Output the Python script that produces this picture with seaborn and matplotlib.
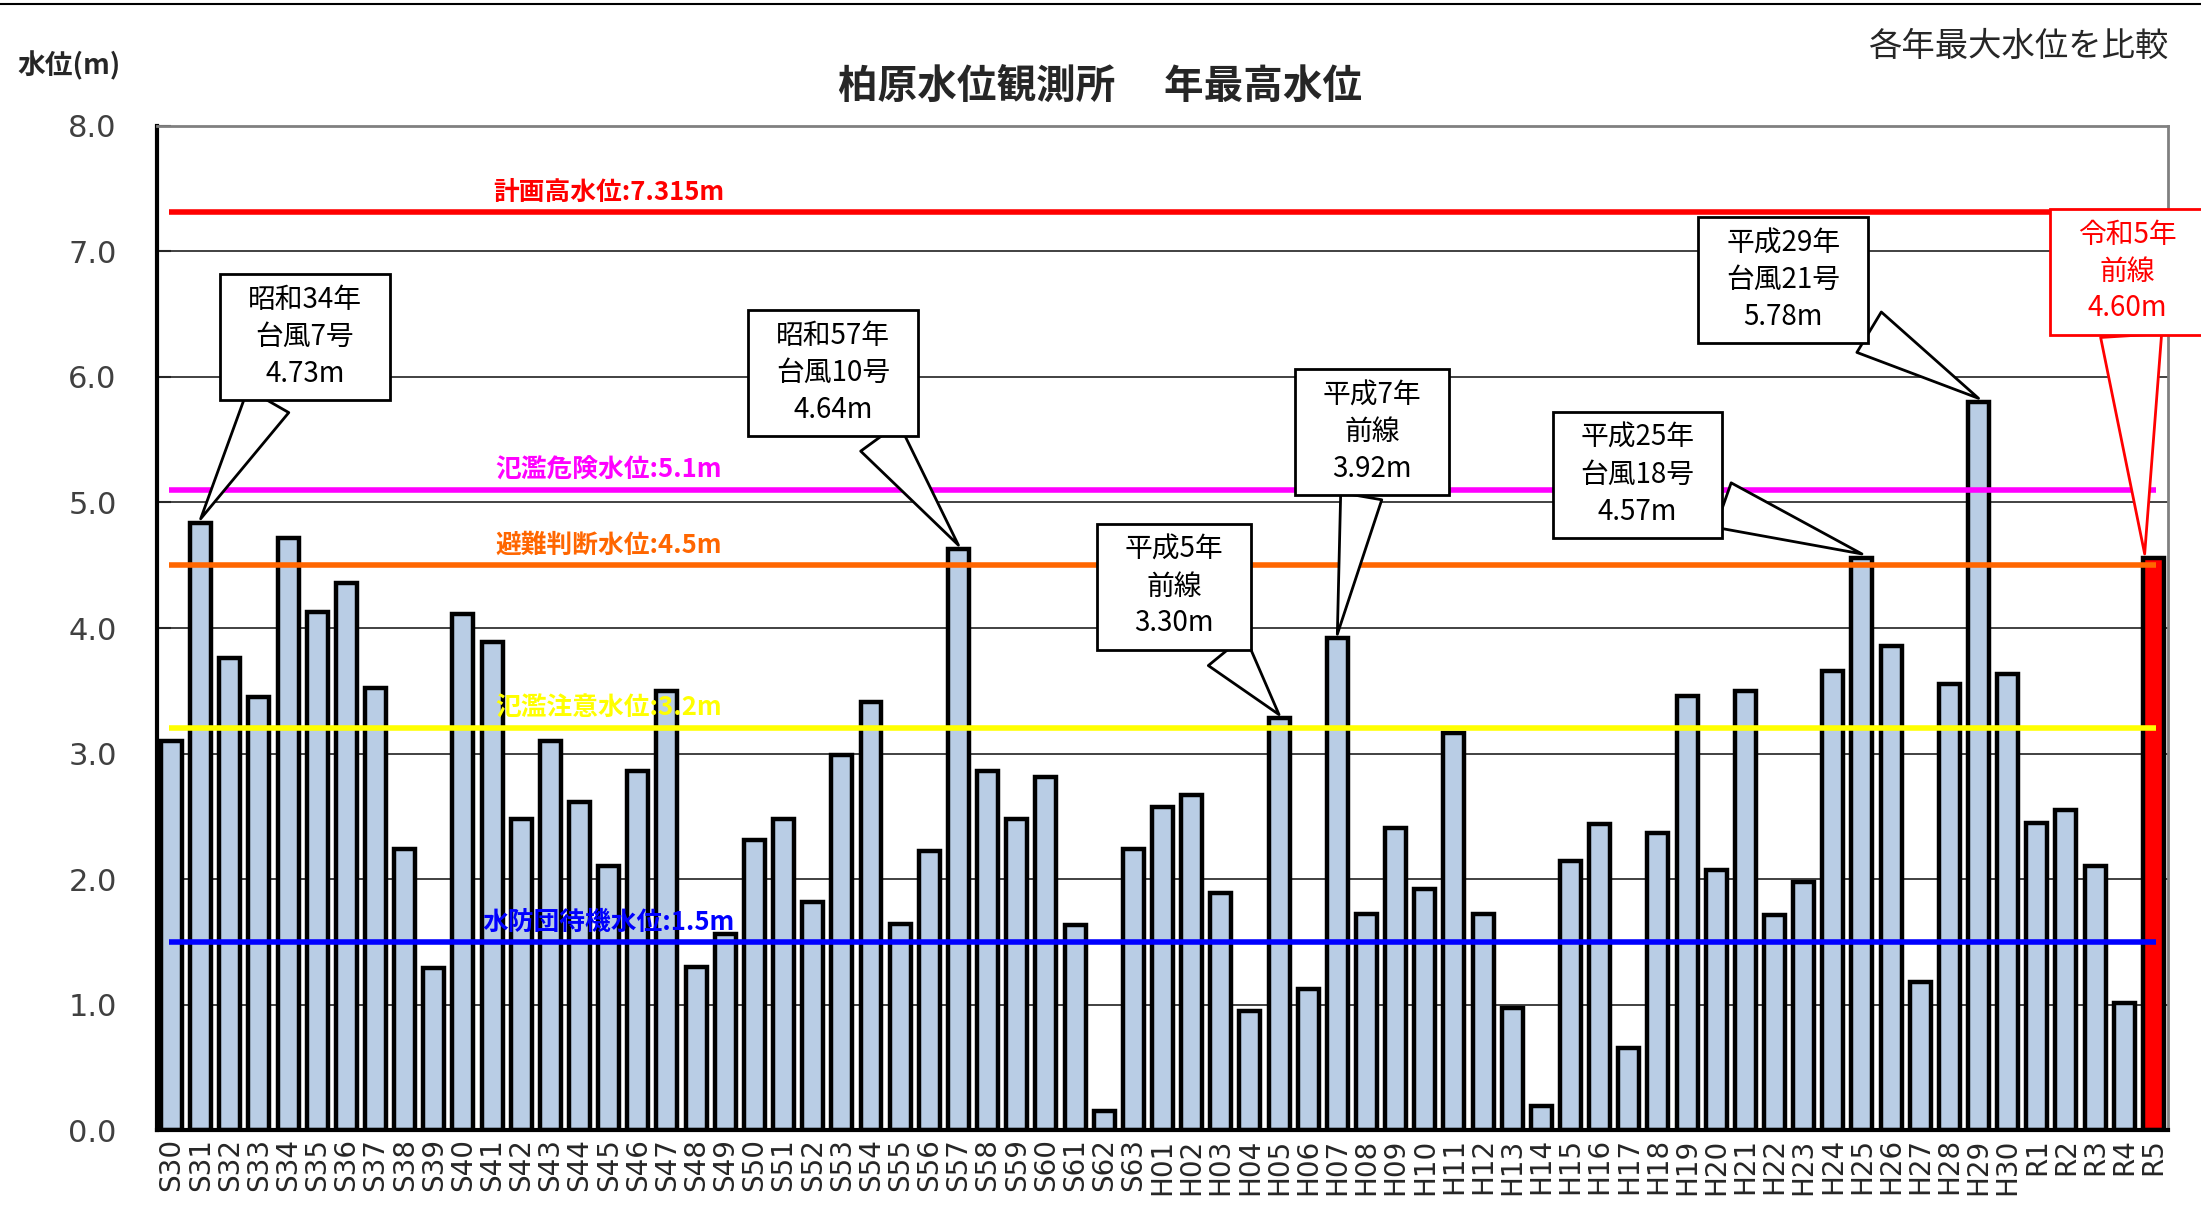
import numpy as np
import pandas as pd
import seaborn as sns
import matplotlib
matplotlib.use("Agg")
import matplotlib.pyplot as plt
from matplotlib.path import Path
from matplotlib.lines import Line2D

# ---- data ----
years = ([f"S{y}" for y in range(30, 64)]
         + [f"H{y:02d}" for y in range(1, 31)]
         + [f"R{y}" for y in range(1, 6)])
levels = [3.10, 4.84, 3.76, 3.45, 4.72, 4.13, 4.36, 3.52, 2.24, 1.29,
          4.11, 3.89, 2.48, 3.10, 2.61, 2.10, 2.86, 3.50, 1.30, 1.56,
          2.31, 2.48, 1.82, 2.99, 3.41, 1.64, 2.22, 4.63, 2.86, 2.48,
          2.81, 1.63, 0.15, 2.24,
          2.57, 2.67, 1.89, 0.95, 3.28, 1.12, 3.92, 1.72, 2.41, 1.92,
          3.16, 1.72, 0.97, 0.19, 2.14, 2.44, 0.65, 2.37, 3.46, 2.07,
          3.50, 1.71, 1.98, 3.66, 4.56, 3.86, 1.18, 3.55, 5.80, 3.63,
          2.45, 2.55, 2.10, 1.01, 4.56]

th_names = ["計画高水位", "氾濫危険水位", "避難判断水位", "氾濫注意水位", "水防団待機水位"]
th_values = [7.315, 5.1, 4.5, 3.2, 1.5]
th_labels = ["7.315m", "5.1m", "4.5m", "3.2m", "1.5m"]
th_colors = ["#FF0000", "#FF00FF", "#FF6600", "#FFFF00", "#0000FF"]

callout_years = ["S31", "S57", "H05", "H07", "H25", "H29", "R5"]
callout_texts = ["昭和34年\n台風7号\n4.73m", "昭和57年\n台風10号\n4.64m",
                 "平成5年\n前線\n3.30m", "平成7年\n前線\n3.92m",
                 "平成25年\n台風18号\n4.57m", "平成29年\n台風21号\n5.78m",
                 "令和5年\n前線\n4.60m"]
# box centres (data coords) - layout only
callout_pos = [(4.58, 6.32), (22.7, 6.03), (34.4, 4.33), (41.2, 5.56),
               (50.3, 5.22), (55.3, 6.77), (67.1, 6.84)]
callout_color = ["black"] * 6 + ["#FF0000"]
callout_tail = [1.7, 1.7, 1.7, 1.5, 1.7, 1.7, 2.2]

# ---- style ----
sns.set_style("white")
plt.rcParams['font.family'] = ['Noto Sans CJK JP', 'DejaVu Sans']

fig = plt.figure(figsize=(22.01, 12.16), dpi=100)
ax = fig.add_axes([0.0713, 0.0707, 0.9137, 0.8257])

df = pd.DataFrame({"year": years, "level": levels})
bar_colors = ["#B9CDE5"] * (len(years) - 1) + ["#FF0000"]
sns.barplot(data=df, x="year", y="level", hue="year", palette=bar_colors,
            legend=False, width=0.72, edgecolor="black", linewidth=3.2,
            saturation=1, ax=ax, zorder=2)

ax.set_xlim(-0.5, len(years) - 0.5)
ax.set_ylim(0, 8)
ax.set_yticks(np.arange(0, 8.1, 1.0))
ax.set_yticklabels([f"{v:.1f}" for v in np.arange(0, 8.1, 1.0)],
                   fontsize=22, color="#404040", family="DejaVu Sans")
ax.set_xticks(range(len(years)))
ax.set_xticklabels(years, rotation=90, fontsize=20, family="DejaVu Sans")
ax.set_xlabel("")
ax.set_ylabel("")
ax.yaxis.grid(True, color="#333333", lw=1.3)
ax.set_axisbelow(True)
ax.tick_params(axis="y", direction="in", length=10, width=1.5, pad=29, left=True)
ax.tick_params(axis="x", length=0, pad=6)
ax.spines["left"].set_linewidth(3)
ax.spines["bottom"].set_linewidth(3)
ax.spines["left"].set_color("black")
ax.spines["bottom"].set_color("black")
for s in ["top", "right"]:
    ax.spines[s].set_color("#808080")
    ax.spines[s].set_linewidth(2)

# threshold lines
for name, v, lab, c in zip(th_names, th_values, th_labels, th_colors):
    ax.hlines(v, -0.1, 68.1, colors=c, lw=4, zorder=3)
    ax.text(15, v + 0.05, f"{name}:{lab}", color=c, fontsize=18.5,
            fontweight="bold", ha="center", va="bottom", zorder=4)


def callout_box(x0, y0, width, height, mutation_size):
    padx, pady = 1.0 * mutation_size, 0.4 * mutation_size
    x0, y0 = x0 - padx, y0 - pady
    x1, y1 = x0 + width + 2 * padx, y0 + height + 2 * pady
    return Path([(x0, y0), (x1, y0), (x1, y1), (x0, y1), (x0, y0)], closed=True)


for yr, txt, pos, c, tw in zip(callout_years, callout_texts, callout_pos,
                               callout_color, callout_tail):
    i = years.index(yr)
    tip_x = i - 0.3 if yr == "R5" else i
    ax.annotate(txt, xy=(tip_x, levels[i] + 0.03), xytext=pos,
                ha="center", va="center", fontsize=20, color=c,
                linespacing=1.3, zorder=6, annotation_clip=False,
                bbox=dict(boxstyle=callout_box, fc="white", ec=c, lw=2),
                arrowprops=dict(arrowstyle=f"wedge,tail_width={tw},shrink_factor=0.5",
                                fc="white", ec=c, lw=2, shrinkA=0, shrinkB=0))

# figure texts
fig.text(0.5, 0.929, "柏原水位観測所　 年最高水位", ha="center", va="center",
         fontsize=28.5, fontweight="bold")
fig.text(0.0077, 0.946, "水位(m)", ha="left", va="center", fontsize=20,
         fontweight="bold")
fig.text(0.9854, 0.962, "各年最大水位を比較", ha="right", va="center", fontsize=24)
fig.add_artist(Line2D([0, 1], [0.9965, 0.9965], color="black", lw=1.5,
                      transform=fig.transFigure))

fig.savefig("out.png", dpi=100)
